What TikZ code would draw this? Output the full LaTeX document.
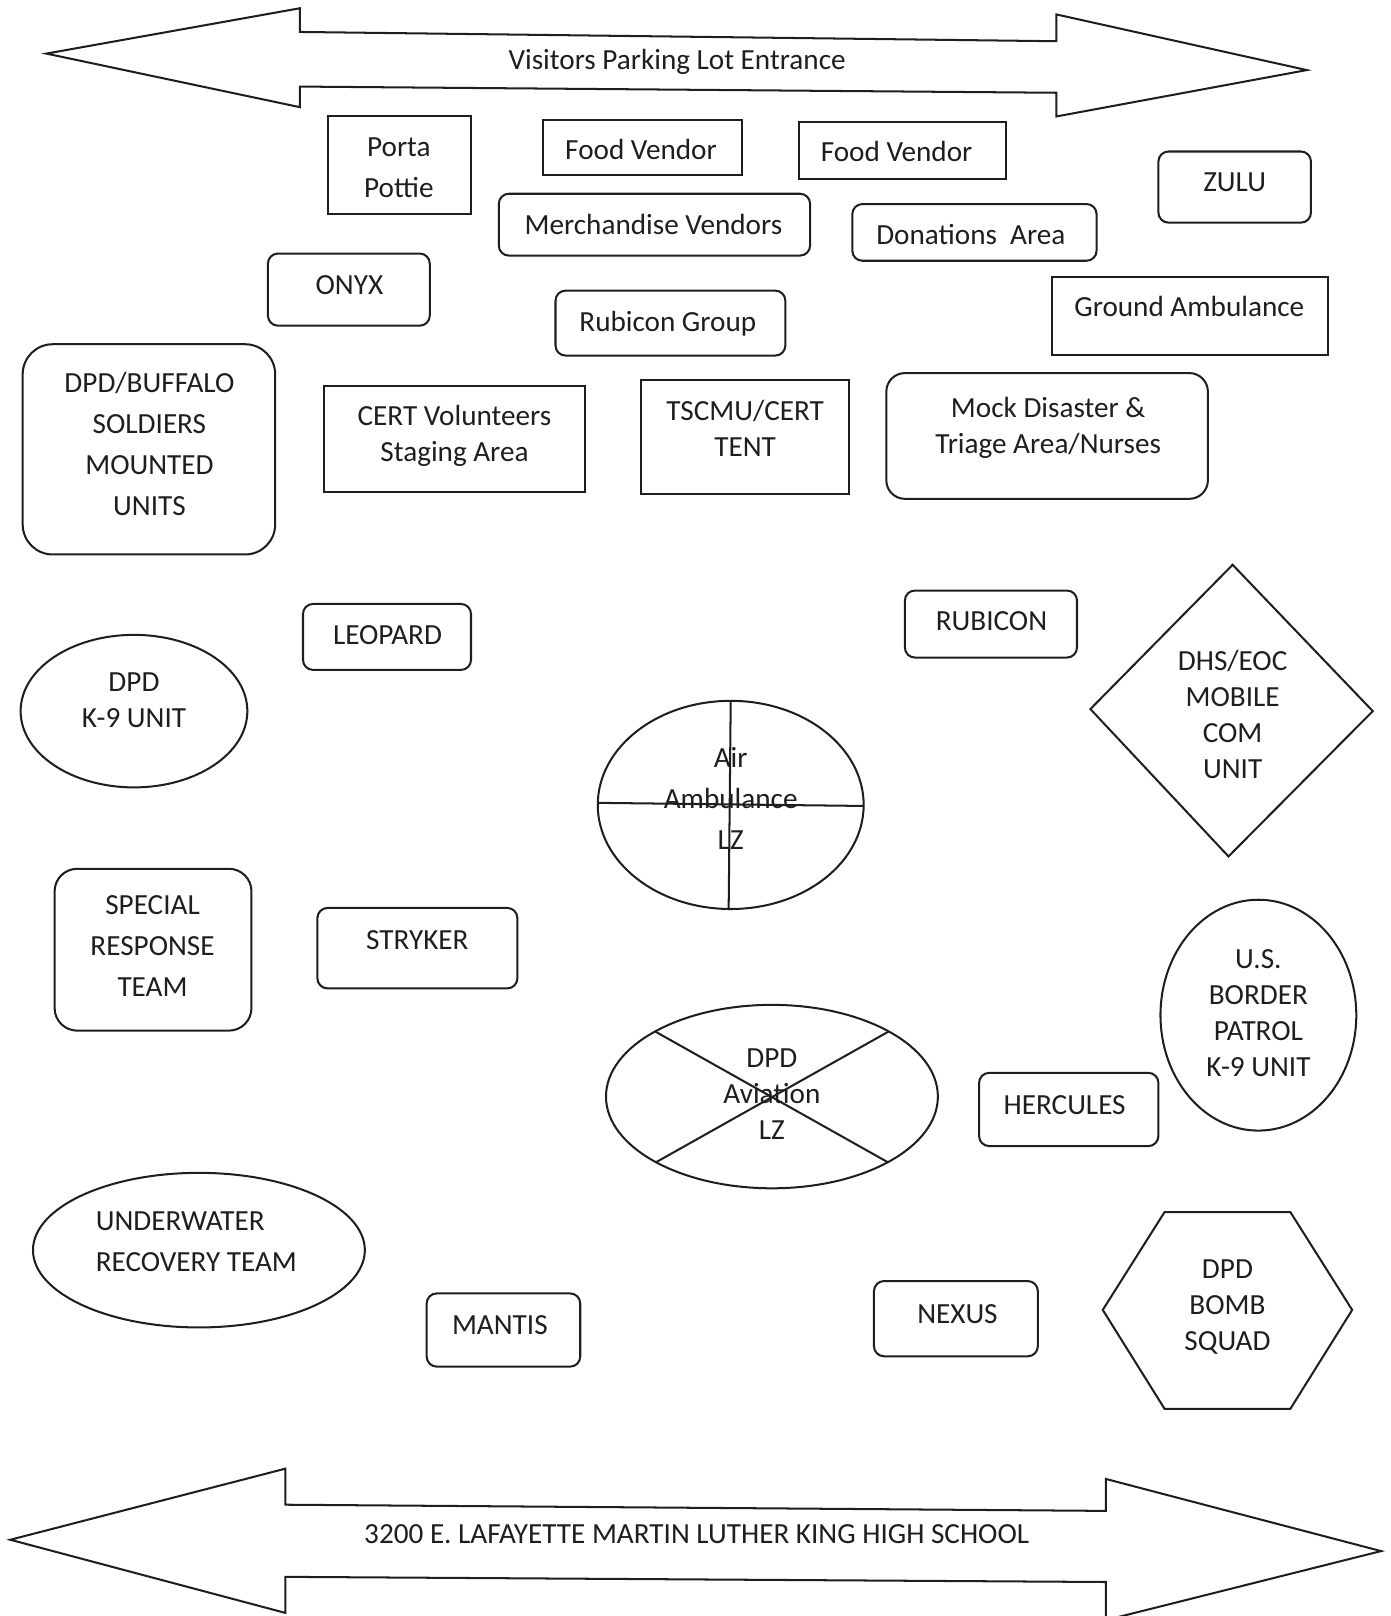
\documentclass[tikz,border=0pt]{standalone}
\usepackage{fontspec}
\setmainfont{Carlito}
\definecolor{ink}{HTML}{1E1E1E}

\begin{document}
\begin{tikzpicture}[x=0.0206cm, y=-0.0206cm, line width=1.15pt,
    lbl/.style={text=ink, align=center, inner sep=0pt, font=\fontsize{16.6}{20.5}\selectfont},
    loose/.style={font=\fontsize{16.6}{23.4}\selectfont},
    sq/.style={draw=ink},
    rbox/.style={draw=ink, rounded corners=0.2cm},
    blockarrow/.style={draw=ink, line join=miter}]

  \useasboundingbox (0,0) rectangle (1349,1568);

  % Entrance arrow (top)
  \draw[blockarrow] (45,52) -- (291,8) -- (291,31) -- (1025,40) -- (1025,14) -- (1268,68)
    -- (1025,113) -- (1025,90) -- (291,84) -- (291,104) -- cycle;
  \node[lbl] (visitors) at (657,60) {Visitors Parking Lot Entrance};

  % Vendors row
  \draw[sq] (318,113) rectangle (457,208);
  \node[lbl, loose] (porta) at (387,163) {Porta\\Pottie};
  \draw[sq] (527,116) rectangle (720,170);
  \node[lbl] (food1) at (622,145) {Food Vendor};
  \draw[sq] (775,118) rectangle (976,174);
  \node[lbl] (food2) at (870,147) {Food Vendor};
  \draw[rbox] (1124,147) rectangle (1272,216);
  \node[lbl] (zulu) at (1198,177) {ZULU};
  \draw[rbox] (484,188) rectangle (786,248);
  \node[lbl] (merch) at (634,218) {Merchandise Vendors};
  \draw[rbox] (827,198) rectangle (1064,253);
  \node[lbl] (donations) at (942,228) {Donations\ \ Area};
  \draw[rbox] (260,246) rectangle (417,316);
  \node[lbl] (onyx) at (339,277) {ONYX};
  \draw[rbox] (539,282) rectangle (762,345);
  \node[lbl] (rubicongrp) at (648,314) {Rubicon Group};
  \draw[sq] (1021,269) rectangle (1289,344);
  \node[lbl] (groundamb) at (1154,297) {Ground Ambulance};

  % Staging row
  \draw[draw=ink, rounded corners=0.6cm] (22,334) rectangle (267,538);
  \node[lbl, loose] (buffalo) at (145,431) {DPD/BUFFALO\\SOLDIERS\\MOUNTED\\UNITS};
  \draw[sq] (314,375) rectangle (568,477);
  \node[lbl] (cert) at (441,423) {CERT Volunteers\\Staging Area};
  \draw[sq] (622,369) rectangle (824,479);
  \node[lbl] (tscmu) at (723,416) {TSCMU/CERT\\TENT};
  \draw[draw=ink, rounded corners=0.37cm] (860,362) rectangle (1172,484);
  \node[lbl] (mock) at (1017,415) {Mock Disaster \&\\Triage Area/Nurses};

  % Middle field
  \draw[rbox] (294,586) rectangle (457,650);
  \node[lbl] (leopard) at (376,616) {LEOPARD};
  \draw[rbox] (878,573) rectangle (1045,638);
  \node[lbl] (rubicon) at (962,603) {RUBICON};
  \draw[draw=ink] (130,690) ellipse [x radius=110, y radius=74];
  \node[lbl] (k9) at (130,679) {DPD\\K-9 UNIT};
  \draw[draw=ink, line join=miter] (1196,548) -- (1332,690) -- (1192,831) -- (1058,688) -- cycle;
  \node[lbl] (dhs) at (1196,693) {DHS/EOC\\MOBILE\\COM\\UNIT};

  % Air ambulance landing zone
  \draw[draw=ink] (709,781) ellipse [x radius=129, y radius=101];
  \draw[draw=ink] (709,681) -- (707,883);
  \draw[draw=ink] (580,779) -- (838,782);
  \node[lbl, loose] (airlz) at (709,775) {Air\\Ambulance\\LZ};

  \draw[draw=ink, rounded corners=0.45cm] (53,843) rectangle (244,1000);
  \node[lbl, loose] (srt) at (148,918) {SPECIAL\\RESPONSE\\TEAM};
  \draw[rbox] (308,881) rectangle (502,959);
  \node[lbl] (stryker) at (405,912) {STRYKER};
  \draw[draw=ink] (1221,985) ellipse [x radius=95, y radius=112];
  \node[lbl] (border) at (1221,983) {U.S.\\BORDER\\PATROL\\K-9 UNIT};

  % DPD aviation landing zone
  \draw[draw=ink] (749,1064) ellipse [x radius=161, y radius=89];
  \draw[draw=ink] (636,1001) -- (862,1128);
  \draw[draw=ink] (862,1001) -- (636,1128);
  \node[lbl] (avlz) at (749,1062) {DPD\\Aviation\\LZ};

  \draw[rbox] (950,1041) rectangle (1124,1112);
  \node[lbl] (hercules) at (1033,1072) {HERCULES};

  % Bottom row
  \draw[draw=ink] (193,1213) ellipse [x radius=161, y radius=75];
  \node[lbl, loose, align=left, anchor=west] (underwater) at (92,1205) {UNDERWATER\\RECOVERY TEAM};
  \draw[rbox] (414,1255) rectangle (563,1326);
  \node[lbl] (mantis) at (485,1286) {MANTIS};
  \draw[rbox] (848,1243) rectangle (1007,1316);
  \node[lbl] (nexus) at (929,1275) {NEXUS};
  \draw[draw=ink, line join=miter] (1070,1271) -- (1130,1176) -- (1252,1176) -- (1312,1271)
    -- (1252,1367) -- (1130,1367) -- cycle;
  \node[lbl] (bomb) at (1191,1268) {DPD\\BOMB\\SQUAD};

  % School arrow (bottom)
  \draw[blockarrow] (10,1494) -- (277,1425) -- (277,1460) -- (1073,1466) -- (1073,1435) -- (1340,1505)
    -- (1073,1572) -- (1073,1535) -- (277,1530) -- (277,1565) -- cycle;
  \node[lbl] (school) at (676,1489) {3200 E. LAFAYETTE MARTIN LUTHER KING HIGH SCHOOL};

\end{tikzpicture}
\end{document}
